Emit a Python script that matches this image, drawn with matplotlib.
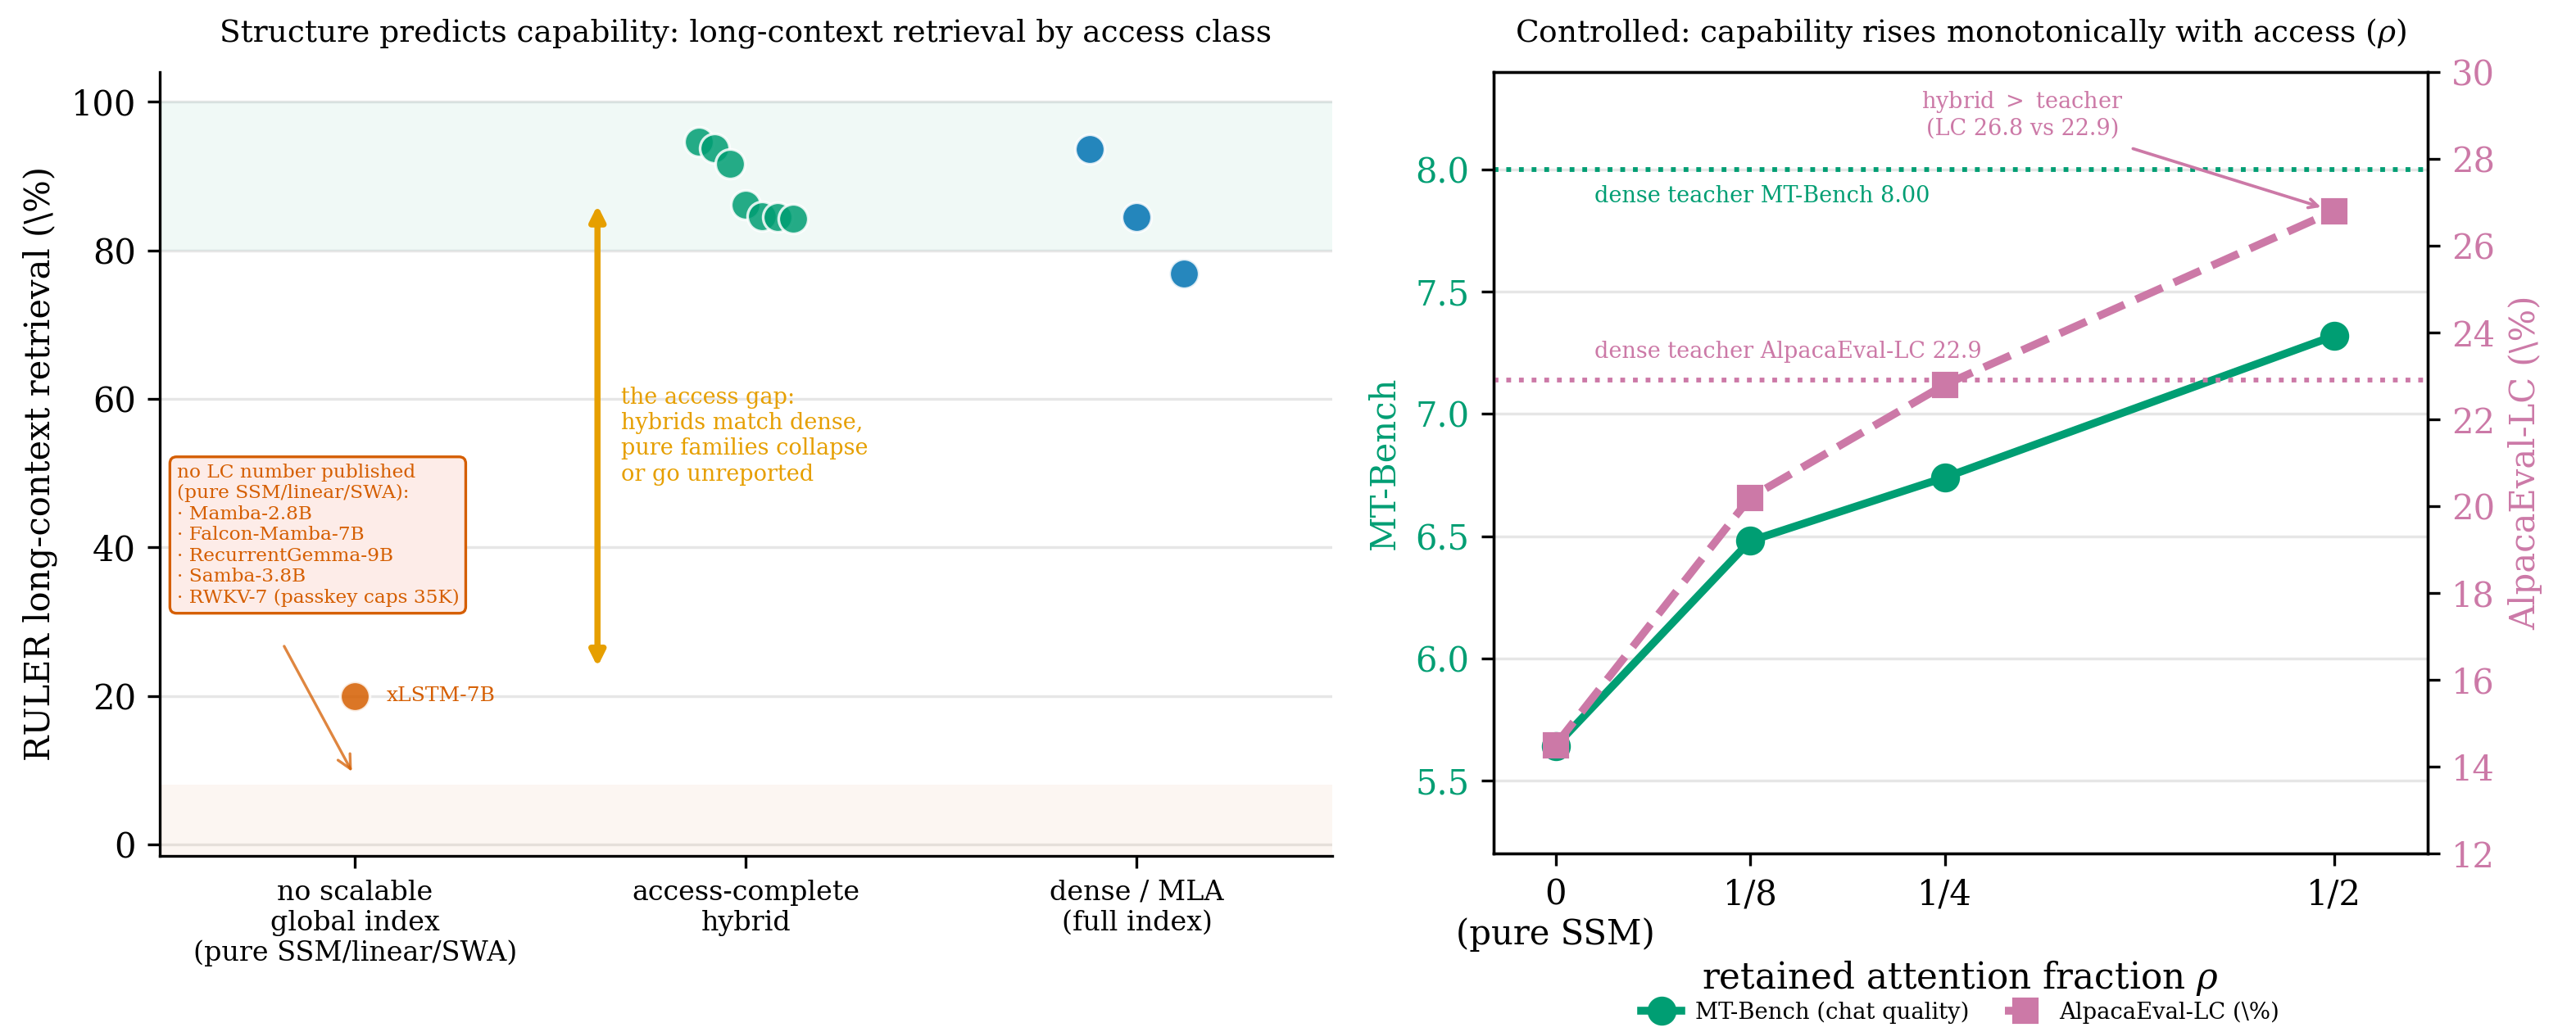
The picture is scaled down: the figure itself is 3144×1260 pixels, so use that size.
import numpy as np
import matplotlib
matplotlib.use("Agg")
import matplotlib.pyplot as plt

plt.rcParams["font.family"] = "serif"
plt.rcParams["font.serif"] = ["DejaVu Serif"]
plt.rcParams["mathtext.fontset"] = "dejavuserif"

GREEN = "#009E73"
BLUE = "#0072B2"
ORANGE = "#D55E00"
GOLD = "#E69F00"
PINK = "#CC79A7"

# left panel: RULER long-context retrieval by access class
classes = ["no scalable\nglobal index\n(pure SSM/linear/SWA)",
           "access-complete\nhybrid",
           "dense / MLA\n(full index)"]
hybrid_ruler = [94.7, 93.8, 91.7, 86.1, 84.6, 84.5, 84.3]
dense_ruler = [93.6, 84.5, 76.9]
xlstm_ruler = [20.0]
no_lc_models = ["Mamba-2.8B", "Falcon-Mamba-7B", "RecurrentGemma-9B",
                "Samba-3.8B", "RWKV-7 (passkey caps 35K)"]

# right panel: controlled sweep over retained attention fraction
rho = [0, 1/8, 1/4, 1/2]
rho_labels = ["0\n(pure SSM)", "1/8", "1/4", "1/2"]
mt_bench = [5.64, 6.48, 6.74, 7.32]
alpaca_lc = [14.5, 20.2, 22.8, 26.8]
teacher_mt = 8.00
teacher_lc = 22.9

fig = plt.figure(figsize=(3145/300, 1260/300), dpi=300)
ax = fig.add_axes([0.062, 0.171, 0.455, 0.759])
ax2 = fig.add_axes([0.5795, 0.173, 0.3625, 0.757])

# ---- left
ax.axhspan(80, 100, color=GREEN, alpha=0.06, lw=0)
ax.axhspan(-5, 8, color=ORANGE, alpha=0.05, lw=0)
ax.grid(axis="y", color="#e6e6e6", lw=0.8)
ax.set_axisbelow(True)

hx = 1 + np.linspace(-0.12, 0.12, len(hybrid_ruler))
ax.scatter(hx, hybrid_ruler, s=75, color=GREEN, alpha=0.85, edgecolor="white", lw=0.8, zorder=3)
dx = 2 + np.linspace(-0.12, 0.12, len(dense_ruler))
ax.scatter(dx, dense_ruler, s=75, color=BLUE, alpha=0.85, edgecolor="white", lw=0.8, zorder=3)
ax.scatter([0], xlstm_ruler, s=75, color=ORANGE, alpha=0.85, edgecolor="white", lw=0.8, zorder=3)
ax.text(0.08, xlstm_ruler[0], "xLSTM-7B", color=ORANGE, fontsize=6, va="center")

box_txt = "no LC number published\n(pure SSM/linear/SWA):\n" + "\n".join("· " + m for m in no_lc_models)
ax.text(-0.457, 51.3, box_txt, color=ORANGE, fontsize=5.6, va="top", ha="left",
        bbox=dict(boxstyle="round,pad=0.35", fc="#FDECE8", ec=ORANGE, lw=0.8))
ax.annotate("", xy=(0, 9), xytext=(-0.19, 27.5),
            arrowprops=dict(arrowstyle="->", color=ORANGE, alpha=0.75, lw=0.8))

ax.annotate("", xy=(0.62, 87), xytext=(0.62, 23),
            arrowprops=dict(arrowstyle="<|-|>", color=GOLD, lw=1.8, mutation_scale=9))
ax.text(0.68, 55, "the access gap:\nhybrids match dense,\npure families collapse\nor go unreported",
        color=GOLD, fontsize=6.5, va="center", ha="left")

ax.set_xlim(-0.5, 2.5)
ax.set_ylim(-1.5, 104)
ax.set_xticks(range(3))
ax.set_xticklabels(classes, fontsize=8)
ax.set_yticks([0, 20, 40, 60, 80, 100])
ax.tick_params(axis="y", labelsize=10)
ax.set_ylabel("RULER long-context retrieval (\\%)", fontsize=10)
ax.set_title("Structure predicts capability: long-context retrieval by access class", fontsize=9, pad=9)
ax.spines["top"].set_visible(False)
ax.spines["right"].set_visible(False)

# ---- right
ax2.grid(axis="y", color="#e6e6e6", lw=0.8)
ax2.set_axisbelow(True)
ax2.axhline(teacher_mt, color=GREEN, ls=":", lw=1.4)
ax2.text(0.025, 7.893, "dense teacher MT-Bench 8.00", color=GREEN, fontsize=6.5, va="center")
l1, = ax2.plot(rho, mt_bench, "-o", color=GREEN, lw=2.3, ms=7.5, label="MT-Bench (chat quality)")
ax2.set_xlim(-0.04, 0.56)
ax2.set_ylim(5.2, 8.4)
ax2.set_xticks(rho)
ax2.set_xticklabels(rho_labels, fontsize=10)
ax2.tick_params(axis="y", labelsize=10, labelcolor=GREEN)
ax2.set_ylabel("MT-Bench", color=GREEN, fontsize=10)
ax2.set_xlabel("retained attention fraction $\\rho$", fontsize=10.5, labelpad=2)
ax2.set_title("Controlled: capability rises monotonically with access ($\\rho$)", fontsize=9, pad=9)

ax3 = ax2.twinx()
ax3.axhline(teacher_lc, color=PINK, ls=":", lw=1.4)
ax3.text(0.025, 23.55, "dense teacher AlpacaEval-LC 22.9", color=PINK, fontsize=6.5, va="center")
l2, = ax3.plot(rho, alpaca_lc, "--s", color=PINK, lw=2.3, ms=6.5, label="AlpacaEval-LC (\\%)")
ax3.set_ylim(12, 30)
ax3.set_yticks(range(12, 31, 2))
ax3.tick_params(axis="y", labelsize=10, labelcolor=PINK)
ax3.set_ylabel("AlpacaEval-LC (\\%)", color=PINK, fontsize=10)
ax3.annotate("hybrid $>$ teacher\n(LC 26.8 vs 22.9)", xy=(rho[-1], alpaca_lc[-1]),
             xytext=(0.30, 29.03), color=PINK, fontsize=6.5, ha="center", va="center",
             arrowprops=dict(arrowstyle="->", color=PINK, lw=0.9, shrinkB=4))

ax2.legend(handles=[l1, l2], loc="upper center", bbox_to_anchor=(0.5, -0.185),
           ncol=2, frameon=False, fontsize=6.6, borderaxespad=0, borderpad=0.15,
           handlelength=1.8, columnspacing=1.6, handletextpad=0.6)

fig.savefig("out.png", dpi=300)
